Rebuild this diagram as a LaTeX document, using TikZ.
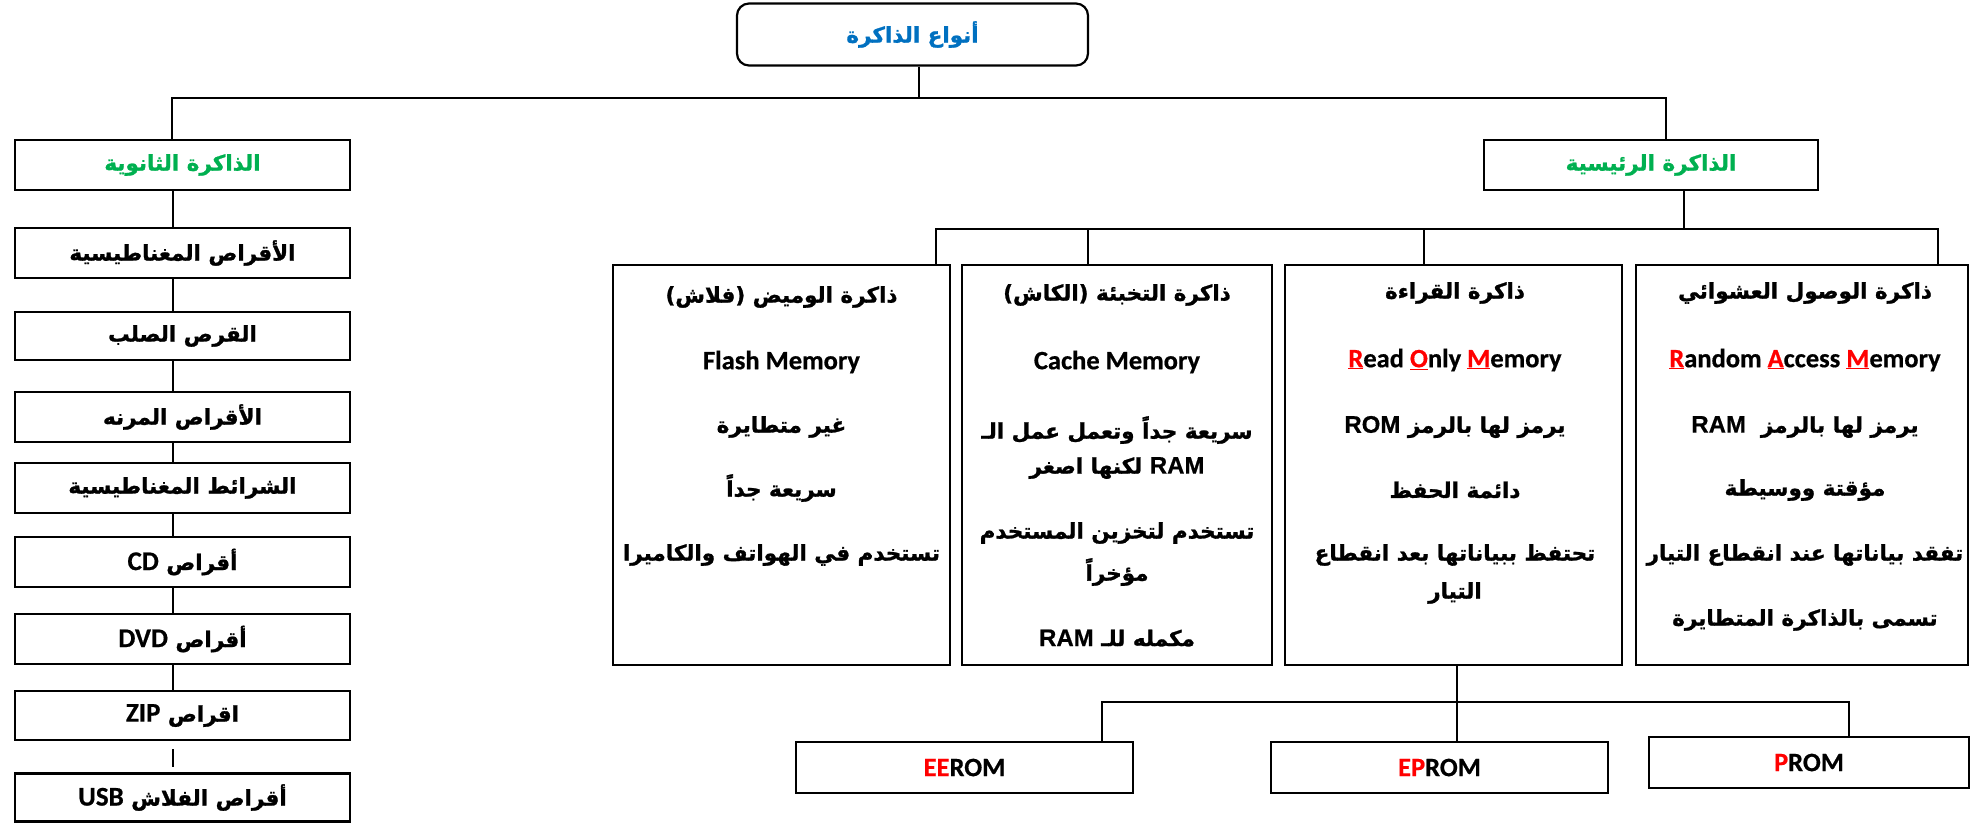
\documentclass[tikz,border=0pt]{standalone}
\usepackage{fontspec}
\setmainfont{DejaVu Sans}
\newfontfamily\arf[Script=Arabic,FakeBold=1.2]{DejaVu Sans Bold}
\newfontfamily\calf[FakeBold=0.6]{Carlito Bold}
\newfontfamily\arialf[FakeBold=0.6]{Liberation Sans Bold}
\TeXXeTstate=1
\definecolor{tblue}{RGB}{0,112,192}
\definecolor{tgreen}{RGB}{0,176,80}
\definecolor{tred}{RGB}{255,0,0}
\newcommand{\EA}[1]{\beginL{\fontsize{24}{28}\selectfont\arialf #1}\endL{}}
\newcommand{\EC}[1]{\beginL{\fontsize{27}{30}\selectfont\calf #1}\endL{}}
\newcommand{\ru}[1]{\textcolor{tred}{\underline{#1}}}
\tikzset{
  box/.style={draw, line width=2.2pt, rectangle, inner sep=0pt},
  rbox/.style={draw, line width=2.2pt, rectangle, rounded corners=12pt, inner sep=0pt},
  ln/.style={line width=2pt},
  ar/.style={font=\fontsize{21.5}{25}\selectfont\arf, inner sep=0pt},
  en/.style={font=\fontsize{26.5}{30}\selectfont\calf, inner sep=0pt},
}
\begin{document}
\begin{tikzpicture}[x=1pt,y=-1pt]
\useasboundingbox (0,0) rectangle (1972,823);
% top
\node[rbox, ar, text=tblue, minimum width=351pt, minimum height=62pt] (top) at (912.5,34.5) {\beginR أنواع الذاكرة\endR};
% secondary column
\node[box, ar, text=tgreen, minimum width=335pt, minimum height=50pt] (sec) at (182.5,165) {\beginR الذاكرة الثانوية\endR};
\node[box, ar, minimum width=335pt, minimum height=50pt] (s1) at (182.5,253) {\beginR الأقراص المغناطيسية\endR};
\node[box, ar, minimum width=335pt, minimum height=48pt] (s2) at (182.5,336) {\beginR القرص الصلب\endR};
\node[box, ar, minimum width=335pt, minimum height=50pt] (s3) at (182.5,417) {\beginR الأقراص المرنه\endR};
\node[box, ar, minimum width=335pt, minimum height=50pt] (s4) at (182.5,488) {\beginR الشرائط المغناطيسية\endR};
\node[box, ar, minimum width=335pt, minimum height=50pt] (s5) at (182.5,562) {\beginR أقراص \EC{CD}\endR};
\node[box, ar, minimum width=335pt, minimum height=50pt] (s6) at (182.5,639) {\beginR أقراص \EC{DVD}\endR};
\node[box, ar, minimum width=335pt, minimum height=49pt] (s7) at (182.5,715.5) {\beginR اقراص \EC{ZIP}\endR};
\node[box, ar, minimum width=335pt, minimum height=48pt] (s8) at (182.5,797.5) {\beginR أقراص الفلاش \EC{USB}\endR};
% main memory
\node[box, ar, text=tgreen, minimum width=334pt, minimum height=50pt] (main) at (1651,165) {\beginR الذاكرة الرئيسية\endR};
% four boxes
\node[box, minimum width=337pt, minimum height=400pt] (flash) at (781.5,465) {};
\node[box, minimum width=310pt, minimum height=400pt] (cache) at (1117,465) {};
\node[box, minimum width=337pt, minimum height=400pt] (rom) at (1453.5,465) {};
\node[box, minimum width=332pt, minimum height=400pt] (ram) at (1802,465) {};
% RAM text
\node[ar] (ram1) at (1805,293) {\beginR ذاكرة الوصول العشوائي\endR};
\node[en] (ram2) at (1805,360) {\ru{R}andom \ru{A}ccess \ru{M}emory};
\node[ar] (ram3) at (1805,427) {\beginR يرمز لها بالرمز \ \EA{RAM}\endR};
\node[ar] (ram4) at (1805,490) {\beginR مؤقتة ووسيطة\endR};
\node[ar] (ram5) at (1805,555) {\beginR تفقد بياناتها عند انقطاع التيار\endR};
\node[ar] (ram6) at (1805,620) {\beginR تسمى بالذاكرة المتطايرة\endR};
% ROM text
\node[ar] (rom1) at (1455,293) {\beginR ذاكرة القراءة\endR};
\node[en] (rom2) at (1455,360) {\ru{R}ead \ru{O}nly \ru{M}emory};
\node[ar] (rom3) at (1455,427) {\beginR يرمز لها بالرمز \EA{ROM}\endR};
\node[ar] (rom4) at (1455,490) {\beginR دائمة الحفظ\endR};
\node[ar] (rom5) at (1455,555) {\beginR تحتفظ ببياناتها بعد انقطاع\endR};
\node[ar] (rom6) at (1455,593) {\beginR التيار\endR};
% Cache text
\node[ar] (ca1) at (1117,295) {\beginR ذاكرة التخبئة (الكاش)\endR};
\node[en] (ca2) at (1117,362) {Cache Memory};
\node[ar] (ca3) at (1117,430) {\beginR سريعة جداً وتعمل عمل الـ\endR};
\node[ar] (ca4) at (1117,468) {\beginR\EA{RAM} لكنها اصغر\endR};
\node[ar] (ca5) at (1117,533) {\beginR تستخدم لتخزين المستخدم\endR};
\node[ar] (ca6) at (1117,572) {\beginR مؤخراً\endR};
\node[ar] (ca7) at (1117,638) {\beginR مكمله للـ \EA{RAM}\endR};
% Flash text
\node[ar] (fl1) at (781.5,297) {\beginR ذاكرة الوميض (فلاش)\endR};
\node[en] (fl2) at (781.5,362) {Flash Memory};
\node[ar] (fl3) at (781.5,427) {\beginR غير متطايرة\endR};
\node[ar] (fl4) at (781.5,488) {\beginR سريعة جداً\endR};
\node[ar] (fl5) at (781.5,555) {\beginR تستخدم في الهواتف والكاميرا\endR};
% ROM types
\node[box, en, minimum width=337pt, minimum height=51pt] (eerom) at (964.5,767.5) {\textcolor{tred}{EE}ROM};
\node[box, en, minimum width=337pt, minimum height=51pt] (eprom) at (1439.5,767.5) {\textcolor{tred}{EP}ROM};
\node[box, en, minimum width=320pt, minimum height=51pt] (prom) at (1809,762.5) {\textcolor{tred}{P}ROM};
% junction points
\coordinate (j0) at (919,98);
\coordinate (jL) at (172,98);
\coordinate (jR) at (1666,98);
\coordinate (cx) at (173,0);
\coordinate (m0) at (1684,229);
\coordinate (mL) at (936,229);
\coordinate (mC) at (1088,229);
\coordinate (mO) at (1424,229);
\coordinate (mR) at (1938,229);
\coordinate (r0) at (1457,702);
\coordinate (rL) at (1102,702);
\coordinate (rR) at (1849,702);
% connectors
\draw[ln] (top.south -| j0) -- (j0);
\draw[ln] (sec.north -| jL) -- (jL) -- (jR) -- (main.north -| jR);
\draw[ln] (sec.south -| cx) -- (s1.north -| cx);
\draw[ln] (s1.south -| cx) -- (s2.north -| cx);
\draw[ln] (s2.south -| cx) -- (s3.north -| cx);
\draw[ln] (s3.south -| cx) -- (s4.north -| cx);
\draw[ln] (s4.south -| cx) -- (s5.north -| cx);
\draw[ln] (s5.south -| cx) -- (s6.north -| cx);
\draw[ln] (s6.south -| cx) -- (s7.north -| cx);
\draw[ln, shorten <=8pt, shorten >=5pt] (s7.south -| cx) -- (s8.north -| cx);
\draw[ln] (main.south -| m0) -- (m0);
\draw[ln] (flash.north -| mL) -- (mL) -- (mR) -- (ram.north -| mR);
\draw[ln] (mC) -- (cache.north -| mC);
\draw[ln] (mO) -- (rom.north -| mO);
\draw[ln] (rom.south -| r0) -- (r0) -- (eprom.north -| r0);
\draw[ln] (eerom.north -| rL) -- (rL) -- (rR) -- (prom.north -| rR);
\end{tikzpicture}
\end{document}
